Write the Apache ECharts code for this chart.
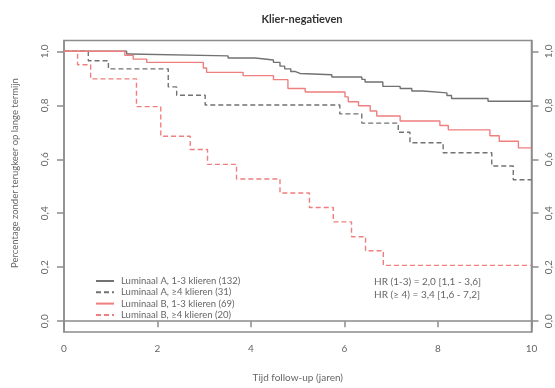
<!DOCTYPE html>
<html>
<head>
<meta charset="utf-8">
<script src="https://cdn.jsdelivr.net/npm/echarts@6/dist/echarts.min.js"></script>
<style>
  html, body { margin: 0; padding: 0; background: #fff; }
  #chart { width: 555px; height: 388px; }
</style>
</head>
<body>
<div id="chart"></div>
<script>
// Kaplan-Meier curves: [follow-up years, fraction free of recurrence]
const lumA13 = [[0, 1], [1.34, 0.99], [1.41, 0.983], [3.51, 0.975], [4.09, 0.968], [4.48, 0.959], [4.62, 0.945], [4.72, 0.935], [4.85, 0.925], [4.95, 0.918], [5.05, 0.913], [5.73, 0.905], [6.37, 0.896], [6.44, 0.886], [6.82, 0.870], [7.19, 0.862], [7.44, 0.853], [7.68, 0.846], [8.19, 0.836], [8.29, 0.825], [9.07, 0.815], [10, 0.815]];
const lumA4 = [[0, 1], [0.52, 0.965], [0.95, 0.935], [2.23, 0.868], [2.41, 0.837], [3.02, 0.801], [5.90, 0.768], [6.37, 0.734], [7.15, 0.700], [7.40, 0.661], [8.11, 0.624], [9.15, 0.575], [9.61, 0.524], [10, 0.524]];
const lumB13 = [[0, 1], [1.30, 0.985], [1.48, 0.971], [1.77, 0.959], [2.98, 0.938], [3.05, 0.922], [3.83, 0.910], [4.48, 0.895], [4.79, 0.862], [5.16, 0.849], [6.01, 0.831], [6.08, 0.813], [6.30, 0.798], [6.55, 0.779], [6.69, 0.760], [7.19, 0.742], [8.04, 0.725], [8.22, 0.709], [9.11, 0.687], [9.31, 0.667], [9.72, 0.642], [10, 0.642]];
const lumB4 = [[0, 1], [0.29, 0.95], [0.57, 0.898], [1.55, 0.795], [2.07, 0.685], [2.70, 0.636], [3.07, 0.581], [3.69, 0.527], [4.62, 0.475], [5.25, 0.421], [5.76, 0.368], [6.15, 0.313], [6.45, 0.261], [6.83, 0.207], [10, 0.207]];

const seriesNames = ['Luminaal A, 1-3 klieren (132)', 'Luminaal A, ≥4 klieren (31)', 'Luminaal B, 1-3 klieren (69)', 'Luminaal B, ≥4 klieren (20)'];
const yTicks = [0, 0.2, 0.4, 0.6, 0.8, 1.0];
const hrLines = ['HR (1-3) = 2,0 [1,1 - 3,6]', 'HR (≥ 4) = 3,4 [1,6 - 7,2]'];

const GREY = '#727272';
const RED = '#ef7f7f';
const AXIS = '#8c8c8c';
const TXT = '#666';
const FONT = 'Lato';

function kmSeries(name, data, color, dashed) {
  return {
    name: name, type: 'line', step: 'end', data: data,
    symbol: 'none', silent: true, animation: false,
    lineStyle: { color: color, width: 1.4, type: dashed ? [5, 3] : 'solid' },
    itemStyle: { color: color }
  };
}

const fmt = v => v.toFixed(1).replace('.', ',');

const yAxisBase = {
  type: 'value', min: -0.04, max: 1.04,
  splitLine: { show: false },
  axisLine: { show: true, lineStyle: { color: AXIS, width: 1.5 } },
  axisTick: { show: true, length: 7, customValues: yTicks, lineStyle: { color: AXIS, width: 1.5 } },
  axisLabel: { customValues: yTicks, rotate: 90, color: TXT, fontFamily: FONT, fontSize: 10, formatter: fmt }
};

const chart = echarts.init(document.getElementById('chart'), null, { renderer: 'canvas' });
chart.setOption({
  backgroundColor: '#fff',
  animation: false,
  title: {
    text: 'Klier-negatieven', left: 297, top: 9, textAlign: 'center',
    textStyle: { fontFamily: FONT, fontWeight: 'bold', fontSize: 11, color: '#333' }
  },
  grid: { left: 64, right: 23.5, top: 40.5, bottom: 53, show: true, borderColor: AXIS, borderWidth: 1.5, backgroundColor: 'transparent' },
  xAxis: {
    type: 'value', min: 0, max: 10, interval: 2,
    name: 'Tijd follow-up (jaren)', nameLocation: 'middle', nameGap: 41,
    nameTextStyle: { fontFamily: FONT, fontSize: 10, color: TXT },
    splitLine: { show: false },
    axisLine: { show: true, lineStyle: { color: AXIS, width: 1.5 } },
    axisTick: { show: true, length: 6, lineStyle: { color: AXIS, width: 1.5 } },
    axisLabel: { color: TXT, fontFamily: FONT, fontSize: 10, margin: 12 }
  },
  yAxis: [
    Object.assign({}, yAxisBase, { position: 'left', axisLabel: Object.assign({}, yAxisBase.axisLabel, { margin: 14 }) }),
    Object.assign({}, yAxisBase, { position: 'right', axisLabel: Object.assign({}, yAxisBase.axisLabel, { margin: 12 }) })
  ],
  legend: {
    orient: 'vertical', left: 95, top: 276, padding: 0,
    itemWidth: 18, itemHeight: 10, itemGap: 1.3,
    data: seriesNames,
    itemStyle: { opacity: 0 },
    textStyle: { fontFamily: FONT, fontSize: 9.5, color: TXT, padding: [0, 0, 0, 2] },
    selectedMode: false
  },
  graphic: [
    {
      type: 'text', x: 15, y: 173, rotation: Math.PI / 2,
      style: { text: 'Percentage zonder terugkeer op lange termijn', fill: TXT, font: '9.5px ' + FONT, textAlign: 'center', textVerticalAlign: 'middle' }
    },
    {
      type: 'text', left: 374, top: 275,
      style: { text: hrLines.join('\n'), fill: TXT, font: '10px ' + FONT, lineHeight: 13 }
    }
  ],
  series: [
    kmSeries(seriesNames[0], lumA13, GREY, false),
    kmSeries(seriesNames[1], lumA4, GREY, true),
    kmSeries(seriesNames[2], lumB13, RED, false),
    kmSeries(seriesNames[3], lumB4, RED, true)
  ]
});
</script>
</body>
</html>
